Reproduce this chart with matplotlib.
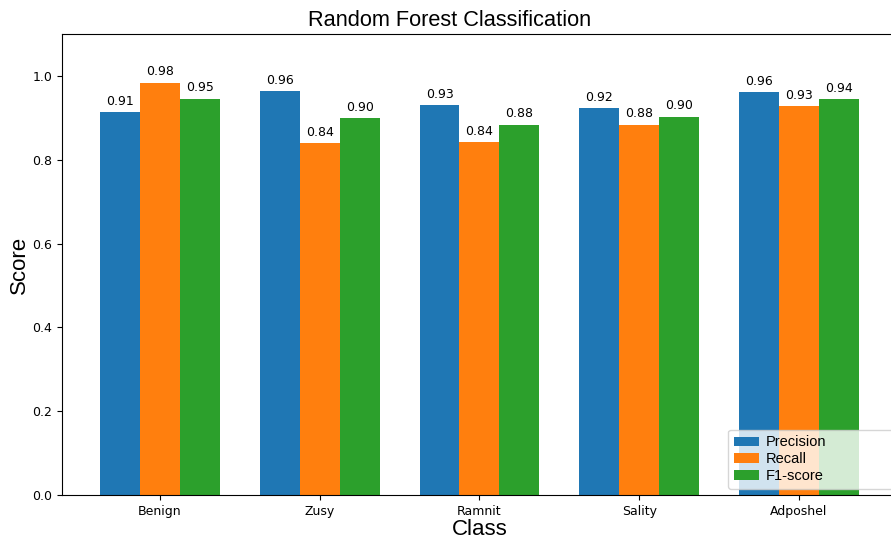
import numpy as np
import matplotlib
matplotlib.use("Agg")
import matplotlib.pyplot as plt

classes = ["Benign", "Zusy", "Ramnit", "Sality", "Adposhel"]
precision = [0.913, 0.964, 0.931, 0.924, 0.962]
recall = [0.984, 0.840, 0.842, 0.884, 0.927]
f1_score = [0.946, 0.899, 0.884, 0.903, 0.944]

series = [("Precision", precision), ("Recall", recall), ("F1-score", f1_score)]
colors = ["#1f77b4", "#ff7f0e", "#2ca02c"]

fig = plt.figure(figsize=(8.91, 5.42), dpi=100)
ax = fig.add_axes([0.0696, 0.0867, 0.937, 0.8506])

x = np.arange(len(classes))
width = 0.25
for i, (name, vals) in enumerate(series):
    bars = ax.bar(x + (i - 1) * width, vals, width, label=name, color=colors[i])
    ax.bar_label(bars, fmt="%.2f", padding=3, fontsize=9)

ax.set_ylim(0, 1.1)
ax.set_xticks(x)
ax.set_xticklabels(classes)
ax.tick_params(labelsize=9)

arial = "Liberation Sans"
fig.text(0.505, 0.952, "Random Forest Classification", fontsize=15.7, family=arial,
         ha="center", va="baseline")
ax.set_xlabel("Class", fontsize=16, family=arial, labelpad=1)
ax.set_ylabel("Score", fontsize=16, family=arial, labelpad=1.5)
ax.legend(loc="lower left", bbox_to_anchor=(0.798, 0.013, 0.3, 0.2), mode="expand",
          borderaxespad=0, prop={"family": arial, "size": 10.5}, labelspacing=0.2,
          handlelength=1.7, handleheight=0.6, handletextpad=0.5)

fig.savefig("out.png", dpi=100)
